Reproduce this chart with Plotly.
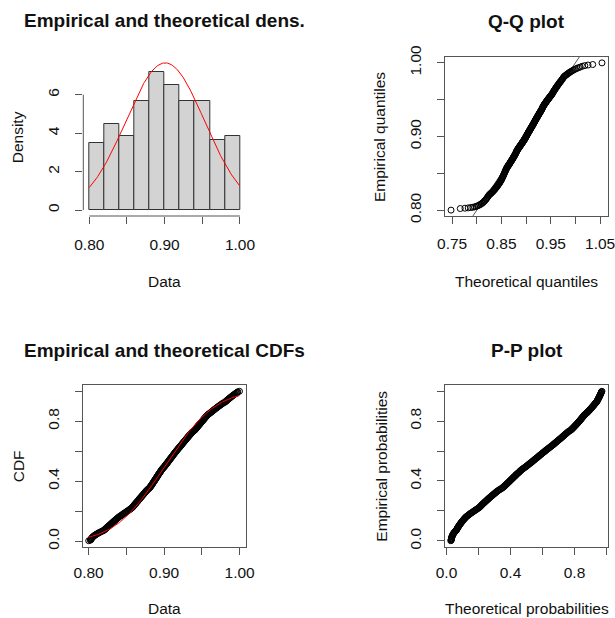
import numpy as np
import plotly.graph_objects as go
from statistics import NormalDist

bin_080_082 = [0.8001, 0.8022, 0.8027, 0.8031, 0.8036, 0.8039, 0.8045, 0.8052, 0.8058, 0.8066,
               0.8075, 0.8082, 0.8094, 0.8101, 0.8115, 0.8126, 0.8137, 0.8149, 0.8163, 0.8178, 0.8190]
bin_082_084 = [0.8204, 0.8209, 0.8221, 0.8225, 0.8233, 0.8238, 0.8249, 0.8253, 0.8260, 0.8271,
               0.8276, 0.8283, 0.8294, 0.8297, 0.8308, 0.8312, 0.8322, 0.8330, 0.8334, 0.8345,
               0.8350, 0.8361, 0.8365, 0.8373, 0.8384, 0.8389, 0.8397]
bin_084_086 = [0.8406, 0.8414, 0.8427, 0.8435, 0.8443, 0.8455, 0.8462, 0.8471, 0.8484, 0.8492,
               0.8500, 0.8513, 0.8521, 0.8530, 0.8541, 0.8547, 0.8558, 0.8566, 0.8574, 0.8581,
               0.8587, 0.8592, 0.8598]
bin_086_088 = [0.8604, 0.8609, 0.8611, 0.8620, 0.8627, 0.8629, 0.8638, 0.8641, 0.8649, 0.8655,
               0.8658, 0.8666, 0.8672, 0.8673, 0.8682, 0.8688, 0.8691, 0.8699, 0.8704, 0.8710,
               0.8716, 0.8718, 0.8727, 0.8733, 0.8737, 0.8744, 0.8750, 0.8753, 0.8761, 0.8766,
               0.8772, 0.8781, 0.8785, 0.8795]
bin_088_090 = [0.8803, 0.8806, 0.8815, 0.8817, 0.8822, 0.8829, 0.8831, 0.8838, 0.8840, 0.8846,
               0.8851, 0.8852, 0.8859, 0.8864, 0.8867, 0.8873, 0.8874, 0.8880, 0.8886, 0.8889,
               0.8893, 0.8899, 0.8902, 0.8904, 0.8911, 0.8916, 0.8919, 0.8921, 0.8928, 0.8933,
               0.8935, 0.8942, 0.8947, 0.8950, 0.8955, 0.8958, 0.8963, 0.8968, 0.8974, 0.8979,
               0.8983, 0.8990, 0.8996]
bin_090_092 = [0.9002, 0.9008, 0.9011, 0.9016, 0.9023, 0.9027, 0.9031, 0.9039, 0.9042, 0.9049,
               0.9054, 0.9056, 0.9063, 0.9069, 0.9071, 0.9078, 0.9083, 0.9087, 0.9094, 0.9098,
               0.9103, 0.9109, 0.9114, 0.9116, 0.9124, 0.9128, 0.9133, 0.9139, 0.9143, 0.9148,
               0.9155, 0.9159, 0.9164, 0.9170, 0.9174, 0.9181, 0.9186, 0.9191, 0.9197]
bin_092_094 = [0.9204, 0.9208, 0.9215, 0.9219, 0.9226, 0.9232, 0.9235, 0.9243, 0.9246, 0.9252,
               0.9259, 0.9263, 0.9268, 0.9275, 0.9279, 0.9286, 0.9290, 0.9297, 0.9303, 0.9307,
               0.9314, 0.9320, 0.9323, 0.9331, 0.9336, 0.9340, 0.9347, 0.9353, 0.9358, 0.9364,
               0.9371, 0.9377, 0.9385, 0.9392]
bin_094_096 = [0.9403, 0.9409, 0.9414, 0.9421, 0.9425, 0.9431, 0.9438, 0.9441, 0.9448, 0.9454,
               0.9457, 0.9465, 0.9469, 0.9476, 0.9480, 0.9487, 0.9492, 0.9498, 0.9503, 0.9509,
               0.9515, 0.9519, 0.9526, 0.9530, 0.9537, 0.9542, 0.9548, 0.9553, 0.9559, 0.9566,
               0.9571, 0.9578, 0.9586, 0.9594]
bin_096_098 = [0.9605, 0.9613, 0.9622, 0.9629, 0.9638, 0.9644, 0.9655, 0.9661, 0.9669, 0.9680,
               0.9688, 0.9695, 0.9706, 0.9712, 0.9721, 0.9733, 0.9740, 0.9748, 0.9759, 0.9767,
               0.9778, 0.9789]
bin_098_100 = [0.9803, 0.9811, 0.9820, 0.9826, 0.9834, 0.9842, 0.9849, 0.9857, 0.9866, 0.9873,
               0.9881, 0.9890, 0.9898, 0.9907, 0.9915, 0.9924, 0.9933, 0.9941, 0.9952, 0.9961,
               0.9969, 0.9976, 0.9998]

hist_breaks = [0.80, 0.82, 0.84, 0.86, 0.88, 0.90, 0.92, 0.94, 0.96, 0.98, 1.00]

titles = ["Empirical and theoretical dens.", "Q-Q plot", "Empirical and theoretical CDFs", "P-P plot"]

data = (bin_080_082 + bin_082_084 + bin_084_086 + bin_086_088 + bin_088_090 +
        bin_090_092 + bin_092_094 + bin_094_096 + bin_096_098 + bin_098_100)

# ---- fitted normal (MLE) ----
x = np.sort(np.array(data))
n = len(x)
mu = float(x.mean())
sd = float(x.std())
nd = NormalDist(mu, sd)

p_obs = (np.arange(1, n + 1) - 0.5) / n
theo_q = np.array([nd.inv_cdf(float(p)) for p in p_obs])
ecdf = np.arange(1, n + 1) / n
theo_p = np.array([nd.cdf(float(v)) for v in x])

grid = np.linspace(hist_breaks[0], hist_breaks[-1], 201)
pdf_vals = np.array([nd.pdf(float(v)) for v in grid])
cdf_vals = np.array([nd.cdf(float(v)) for v in grid])

hist_dens, _ = np.histogram(x, bins=hist_breaks, density=True)
ymax1 = max(hist_dens.max(), pdf_vals.max())


def pad(lo, hi):
    w = hi - lo
    return [lo - 0.04 * w, hi + 0.04 * w]


W, H = 615, 618
FONT = "Liberation Sans"
LINE = "#555555"


def dx(a, b):
    return [a / W, b / W]


def dy(top, bottom):
    return [1 - bottom / H, 1 - top / H]


def ax(domain, rng, tickvals, ticktext, box=True, vertical=False, anchor=None, standoff=6):
    d = dict(domain=domain, range=rng, showgrid=False, zeroline=False,
             ticks="outside", ticklen=7, tickwidth=1, tickcolor=LINE,
             tickvals=tickvals, ticktext=ticktext,
             tickfont=dict(family=FONT, size=15.5, color="#111111"),
             showline=box, mirror=box, linecolor=LINE, linewidth=1,
             anchor=anchor, fixedrange=True, automargin=False,
             ticklabelstandoff=standoff, ticklabeloverflow="allow")
    if vertical:
        d["tickangle"] = -90
    return d


fig = go.Figure()

# Panel 1: histogram + density
fig.add_trace(go.Histogram(x=x, xbins=dict(start=hist_breaks[0], end=hist_breaks[-1],
                                           size=hist_breaks[1] - hist_breaks[0]),
                           histnorm="probability density",
                           marker=dict(color="#D3D3D3", line=dict(color="#333333", width=1)),
                           xaxis="x", yaxis="y"))
fig.add_trace(go.Scatter(x=grid, y=pdf_vals, mode="lines", line=dict(color="red", width=1),
                         xaxis="x", yaxis="y"))

# Panel 2: Q-Q
qq_rng_x = pad(theo_q.min(), theo_q.max())
qq_rng_y = pad(x.min(), x.max())
lo = min(qq_rng_x[0], qq_rng_y[0]) - 0.1
hi = max(qq_rng_x[1], qq_rng_y[1]) + 0.1
fig.add_trace(go.Scatter(x=[lo, hi], y=[lo, hi], mode="lines", line=dict(color="#555555", width=1),
                         xaxis="x2", yaxis="y2"))
fig.add_trace(go.Scatter(x=theo_q, y=x, mode="markers",
                         marker=dict(symbol="circle-open", size=6, color="black", line=dict(width=1)),
                         xaxis="x2", yaxis="y2"))

# Panel 3: CDF
fig.add_trace(go.Scatter(x=x, y=ecdf, mode="markers",
                         marker=dict(symbol="circle-open", size=6, color="black", line=dict(width=1)),
                         xaxis="x3", yaxis="y3"))
fig.add_trace(go.Scatter(x=grid, y=cdf_vals, mode="lines", line=dict(color="red", width=1),
                         xaxis="x3", yaxis="y3"))

# Panel 4: P-P
fig.add_trace(go.Scatter(x=theo_p, y=p_obs, mode="markers",
                         marker=dict(symbol="circle-open", size=6, color="black", line=dict(width=1)),
                         xaxis="x4", yaxis="y4"))

v1x = [0.80, 0.85, 0.90, 0.95, 1.00]
t1x = ["0.80", "", "0.90", "", "1.00"]
v1y = [0, 2, 4, 6]
t1y = ["0", "2", "4", "6"]
v2x = [0.75, 0.80, 0.85, 0.90, 0.95, 1.00, 1.05]
t2x = ["0.75", "", "0.85", "", "0.95", "", "1.05"]
v2y = [0.80, 0.85, 0.90, 0.95, 1.00]
t2y = ["0.80", "", "0.90", "", "1.00"]
v3y = [0.0, 0.2, 0.4, 0.6, 0.8, 1.0]
t3y = ["0.0", "", "0.4", "", "0.8", ""]

YS = 10
fig.update_layout(
    template="none",
    width=W, height=618, margin=dict(l=0, r=0, t=0, b=0),
    paper_bgcolor="white", plot_bgcolor="white", showlegend=False, bargap=0,
    xaxis=ax(dx(83.3, 246), pad(hist_breaks[0], hist_breaks[-1]), v1x, t1x, box=False, anchor="y", standoff=7),
    yaxis=ax(dy(57, 216), [-0.04 * ymax1, 1.04 * ymax1], v1y, t1y, box=False, vertical=True, anchor="x", standoff=YS),
    xaxis2=ax(dx(445, 608), qq_rng_x, v2x, t2x, anchor="y2"),
    yaxis2=ax(dy(57, 216), qq_rng_y, v2y, t2y, vertical=True, anchor="x2", standoff=YS),
    xaxis3=ax(dx(82.7, 245.5), pad(x.min(), x.max()), v1x, t1x, anchor="y3", standoff=5),
    yaxis3=ax(dy(385.3, 546.7), pad(ecdf.min(), ecdf.max()), v3y, t3y, vertical=True, anchor="x3", standoff=YS),
    xaxis4=ax(dx(444.7, 608), pad(theo_p.min(), theo_p.max()), v3y, t3y, anchor="y4", standoff=5),
    yaxis4=ax(dy(385.3, 546.7), pad(p_obs.min(), p_obs.max()), v3y, t3y, vertical=True, anchor="x4", standoff=YS),
)

# axis lines for the histogram panel (span first..last tick, like base R)
fig.add_shape(type="line", xref="x", yref="y domain", x0=v1x[0], x1=v1x[-1], y0=0, y1=0,
              line=dict(color=LINE, width=1))
fig.add_shape(type="line", xref="x domain", yref="y", x0=0, x1=0, y0=v1y[0], y1=v1y[-1],
              line=dict(color=LINE, width=1))


def ann(text, px, py, size=15, bold=False, angle=0):
    fig.add_annotation(text=f"<b>{text}</b>" if bold else text, xref="paper", yref="paper",
                       x=px / W, y=1 - py / H, xanchor="center", yanchor="middle",
                       showarrow=False, textangle=angle,
                       font=dict(family=FONT, size=size, color="#111111"))


# panel titles
ann(titles[0], 164.7, 20.7, 19, bold=True)
ann(titles[1], 526.5, 21.5, 19, bold=True)
ann(titles[2], 164.7, 350, 19, bold=True)
ann(titles[3], 526.5, 350, 19, bold=True)

# axis titles
ann("Data", 164.7, 281.7, 15.5)
ann("Density", 18.3, 137, 15.5, angle=-90)
ann("Theoretical quantiles", 526.5, 281.7, 15.5)
ann("Empirical quantiles", 380, 137, 15.5, angle=-90)
ann("Data", 164, 608.3, 15.5)
ann("CDF", 18.3, 466, 15.5, angle=-90)
ann("Theoretical probabilities", 526.5, 608.3, 15.5)
ann("Empirical probabilities", 380.7, 466, 15.5, angle=-90)

fig.write_html("out.html")
